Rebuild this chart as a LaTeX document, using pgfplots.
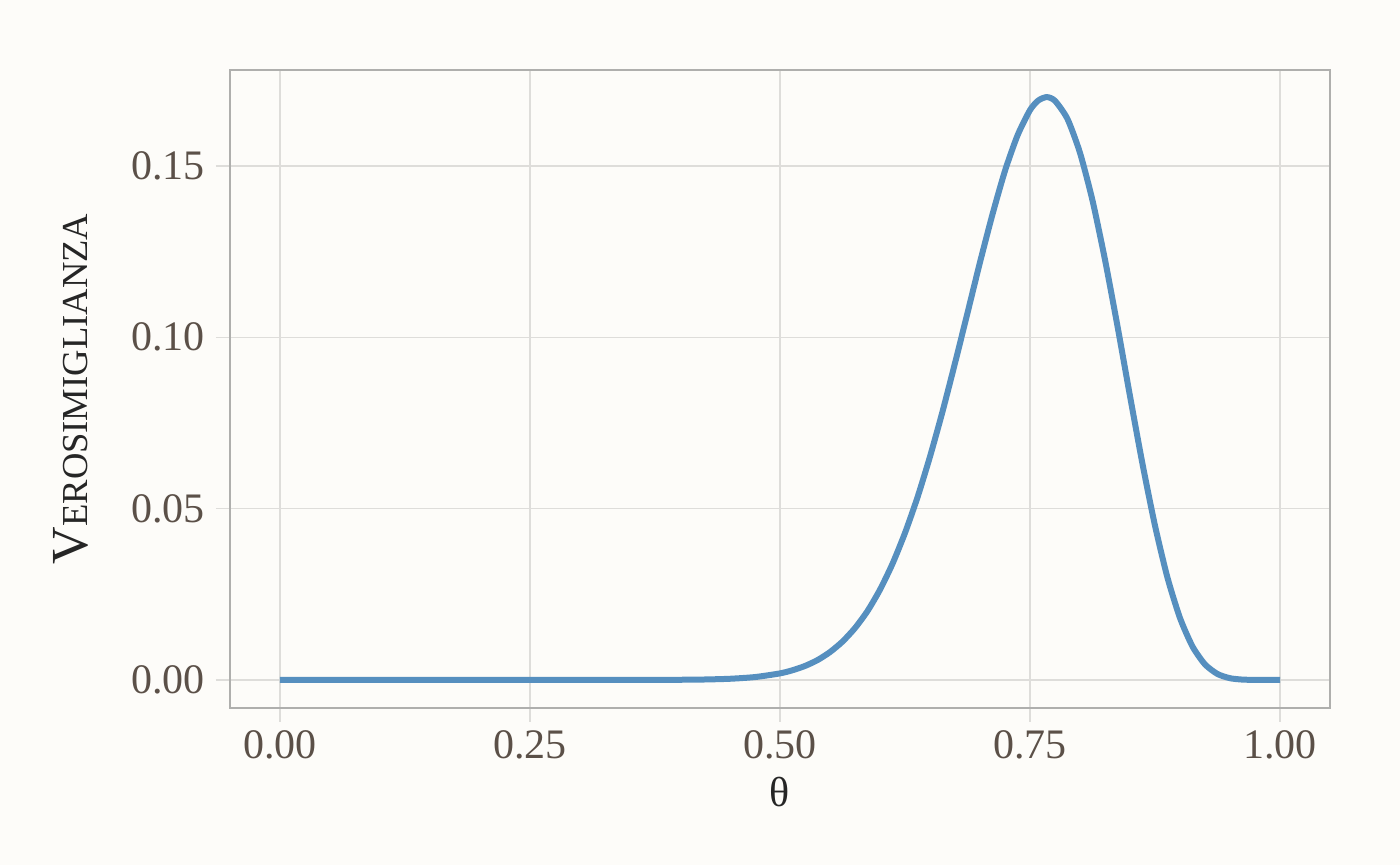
\documentclass[border=0pt]{standalone}
\usepackage{fontspec}
\setmainfont{Liberation Serif}
\usepackage{pgfplots}
\pgfplotsset{compat=1.18}
\definecolor{bg}{HTML}{FDFCF9}
\definecolor{ticktxt}{HTML}{5B5048}
\definecolor{gridc}{HTML}{DEDDDA}
\definecolor{framec}{HTML}{AFAFAD}
\definecolor{curve}{HTML}{568FBF}
\begin{document}
\begin{tikzpicture}
% page background (axis box sits at (0,0)-(550pt,319pt))
\fill[bg] (-115pt,-78.5pt) rectangle (585pt,354pt);
\begin{axis}[
    scale only axis,
    width=550pt, height=319pt,
    xmin=-0.05, xmax=1.05,
    ymin=-0.0082, ymax=0.178,
    xtick={0,0.25,0.5,0.75,1},
    ytick={0,0.05,0.10,0.15},
    grid=major,
    major grid style={gridc, line width=0.7pt},
    axis line style={framec, line width=0.8pt},
    tick style={gridc, line width=0.7pt},
    tick align=outside,
    major tick length=7pt,
    xtick pos=bottom, ytick pos=left,
    /pgf/number format/assume math mode=true,
    /pgf/number format/fixed,
    /pgf/number format/fixed zerofill,
    /pgf/number format/precision=2,
    ticklabel style={font=\fontsize{21}{24}\selectfont, text=ticktxt},
    xticklabel style={yshift=-1pt},
    yticklabel style={xshift=-2pt},
    xlabel={θ},
    xlabel style={font=\fontsize{21}{24}\selectfont, text=black!85, yshift=-2pt},
    ylabel={{\fontsize{26}{28}\selectfont V}{\fontsize{18.3}{20}\selectfont EROSIMIGLIANZA}},
    ylabel style={text=black!85, yshift=14.5pt},
    clip=false,
]
\addplot[curve, line width=3pt, smooth, tension=0.4, line join=round, line cap=butt] coordinates {
    (0,0) (0.05,0) (0.10,0) (0.15,0) (0.20,0) (0.25,0) (0.30,0) (0.35,0)
    (0.40,0.00004) (0.425,0.00012) (0.45,0.00033) (0.475,0.00083)
    (0.50,0.00190) (0.5125,0.00282) (0.525,0.00407) (0.5375,0.00578) (0.55,0.00812) (0.5625,0.01118)
    (0.575,0.01513) (0.5875,0.0201) (0.60,0.02634) (0.6125,0.0339)
    (0.625,0.04290) (0.6375,0.0533) (0.65,0.06518) (0.6625,0.0783)
    (0.675,0.09247) (0.6875,0.1071) (0.70,0.1219) (0.7125,0.1359)
    (0.725,0.1486) (0.7375,0.1589) (0.75,0.1663) (0.7583,0.1691) (0.7667,0.1701)
    (0.775,0.1690) (0.7875,0.1637) (0.80,0.1538)
    (0.8125,0.1399) (0.825,0.1226) (0.8375,0.1032) (0.85,0.0828)
    (0.8625,0.0630) (0.875,0.0450) (0.8875,0.0298) (0.90,0.01805)
    (0.9125,0.00974) (0.925,0.00452) (0.9375,0.00172) (0.95,0.00049)
    (0.9625,0.00009) (0.975,0.00001) (1.0,0)
};
\end{axis}
\end{tikzpicture}
\end{document}
